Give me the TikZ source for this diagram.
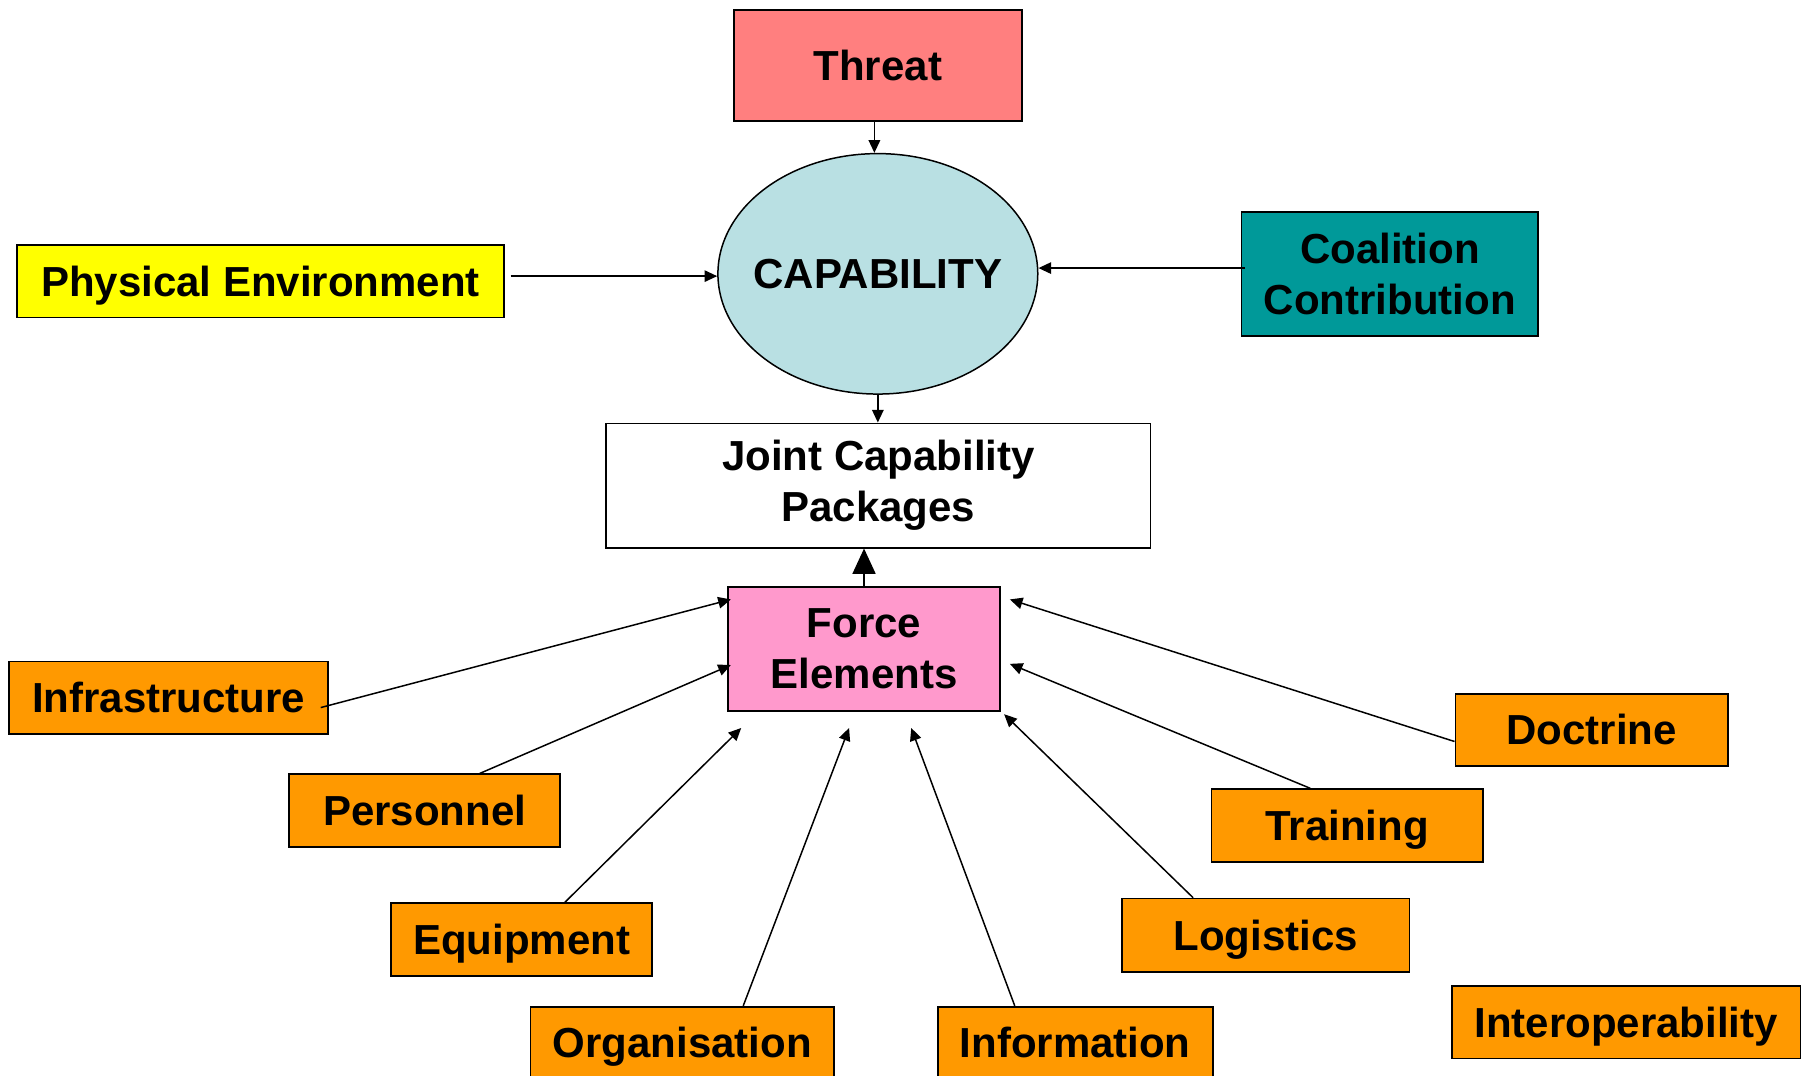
\documentclass[tikz,border=0pt]{standalone}
\usepackage{fontspec}
\setmainfont{Liberation Sans}
\usetikzlibrary{shapes.geometric,arrows.meta,calc}
\definecolor{threatc}{HTML}{FF7F7F}
\definecolor{capc}{HTML}{B9E0E3}
\definecolor{physc}{HTML}{FFFF00}
\definecolor{coalc}{HTML}{009999}
\definecolor{forcec}{HTML}{FF99CC}
\definecolor{orangec}{HTML}{FF9900}
\begin{document}
\begin{tikzpicture}[x=1pt,y=-1pt,
  box/.style={draw=black, line width=1.5pt, rectangle, inner sep=0pt, align=center,
    font=\fontsize{36.5}{44}\selectfont\bfseries},
  sbox/.style={box, text height=26pt, text depth=0pt},
  obox/.style={sbox, fill=orangec, minimum height=63pt},
  arr/.style={-{Triangle[length=11pt,width=10pt]}, line width=1.3pt},
  bigarr/.style={-{Triangle[length=22pt,width=20pt]}, line width=1.3pt}]
\useasboundingbox (0,0) rectangle (1568,935);
\clip (0,0) rectangle (1568,935);

% main nodes
\node[sbox, fill=threatc, minimum width=250pt, minimum height=96pt] (threat) at (763,57) {Threat};
\node[sbox, ellipse, line width=1.3pt, fill=capc, inner xsep=-12pt, minimum width=278pt, minimum height=209pt] (cap) at (763,238) {CAPABILITY};
\node[sbox, fill=physc, minimum width=423pt, minimum height=63pt] (phys) at (226.5,244.5) {Physical Environment};
\node[box, fill=coalc, minimum width=258pt, minimum height=108pt] (coal) at (1208,238) {Coalition\\Contribution};
\node[box, fill=white, minimum width=473pt, minimum height=108pt] (jcp) at (763.5,422) {Joint Capability\\Packages};
\node[box, fill=forcec, minimum width=236pt, minimum height=108pt] (force) at (751,564) {Force\\Elements};

% orange nodes
\node[obox, minimum width=277pt] (inf) at (146.5,606.5) {Infrastructure};
\node[obox, minimum width=236pt] (pers) at (369,704.5) {Personnel};
\node[obox, minimum width=227pt] (equip) at (453.5,816.5) {Equipment};
\node[obox, minimum width=264pt] (org) at (593,906.5) {Organisation};
\node[obox, minimum width=239pt] (info) at (934.5,906.5) {Information};
\node[obox, minimum width=237pt] (doc) at (1383.5,634.5) {Doctrine};
\node[obox, minimum width=236pt] (train) at (1171,717.5) {Training};
\node[obox, minimum width=250pt, minimum height=64pt] (log) at (1100,813) {Logistics};
\node[obox, minimum width=303pt] (inter) at (1413.5,888.5) {Interoperability};

% top connectors
\draw[arr] ([xshift=-3pt]threat.south) -- ([xshift=-3pt]cap.north);
\coordinate (pe) at ($(phys.east)+(5,-4.5)$);
\draw[arr] (pe) -- (pe -| cap.west);
\coordinate (cc) at ($(coal.west)+(4,-5)$);
\draw[arr] (cc) -- (cc -| cap.east);
\draw[arr] (cap.south) -- (cap.south |- jcp.north);
\coordinate (fn) at ($(force.north)+(0,2)$);
\draw[bigarr] (fn) -- (fn |- jcp.south);

% connectors into Force Elements
\draw[arr] ($(inf.east)+(-7,8.5)$) -- ($(force.west)+(3,-43)$);
\draw[arr] ($(pers.north)+(48,0)$) -- ($(force.west)+(3,14)$);
\draw[arr] ($(equip.north)+(37.5,0)$) -- ($(force.south west)+(12,14)$);
\draw[arr] ($(org.north)+(53,0)$) -- ($(force.south)+(-13,14)$);
\draw[arr] ($(info.north)+(-52.5,0)$) -- ($(force.south)+(41,14)$);
\draw[arr] ($(log.north)+(-63,0)$) -- ($(force.south east)+(3,2)$);
\draw[arr] ($(train.north)+(-32,0)$) -- ($(force.east)+(8,13)$);
\draw[arr] ($(doc.west)+(0,10)$) -- ($(force.east)+(8,-43)$);
\end{tikzpicture}
\end{document}
